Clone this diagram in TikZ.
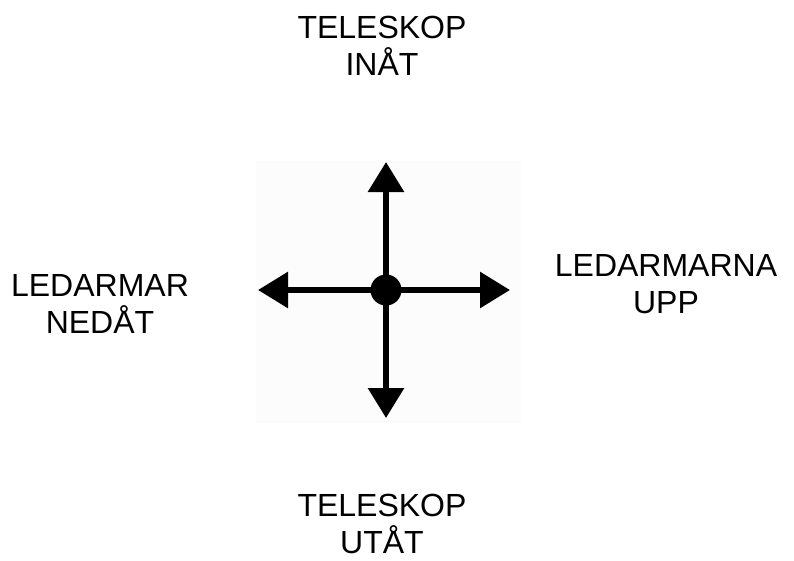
\documentclass[tikz,border=0pt]{standalone}
\usepackage{fontspec}
\setmainfont{Liberation Sans}
\usetikzlibrary{positioning,arrows.meta}
\definecolor{panel}{HTML}{FCFCFC}
\tikzset{>={Triangle[length=30pt,width=35pt]}}
\tikzset{dirlabel/.style={align=center,font=\fontsize{32}{36.5}\selectfont,anchor=base,inner sep=0pt}}

\begin{document}
\begin{tikzpicture}[x=1pt,y=-1pt]
\useasboundingbox (0,0) rectangle (794,560);
\fill[panel] (256,161) rectangle (521,423);
% joystick: hub with four directions
\node[circle,fill,minimum size=31pt,inner sep=0pt] (hub) at (386,290) {};
\coordinate (in) at (386,162);
\coordinate (out) at (386,418);
\coordinate (down) at (258,290);
\coordinate (up) at (510,290);
\draw[->,line width=6pt] (hub.center) -- (in);
\draw[->,line width=6pt] (hub.center) -- (out);
\draw[->,line width=6pt] (hub.center) -- (down);
\draw[->,line width=6pt] (hub.center) -- (up);
% labels (anchor is the last line's baseline)
\node[dirlabel] (telin) at (382,75) {TELESKOP\\INÅT};
\node[dirlabel] (telout) at (382,553) {TELESKOP\\UTÅT};
\node[dirlabel] (armdown) at (100,333) {LEDARMAR\\NEDÅT};
\node[dirlabel] (armup) at (666,313) {LEDARMARNA\\UPP};
\end{tikzpicture}
\end{document}
